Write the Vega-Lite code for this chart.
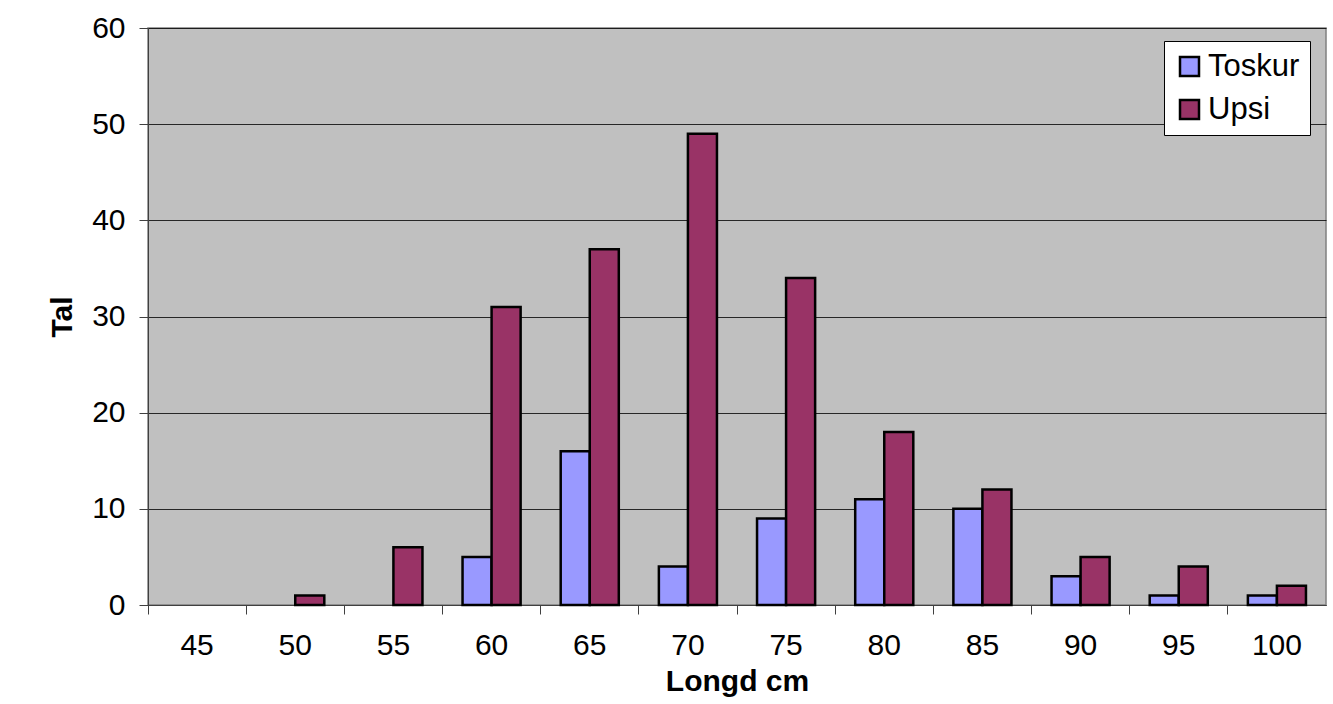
{
  "$schema": "https://vega.github.io/schema/vega-lite/v6.json",
  "width": 1178,
  "height": 577,
  "autosize": {"type": "none"},
  "padding": {"left": 148, "top": 28, "right": 7, "bottom": 99},
  "background": "white",
  "config": {
    "font": "Liberation Sans",
    "view": {"fill": "#C0C0C0", "stroke": "#808080", "strokeWidth": 1.5}
  },
  "data": {
    "values": [
      {"len": "45", "series": "Toskur", "n": 0}, {"len": "45", "series": "Upsi", "n": 0},
      {"len": "50", "series": "Toskur", "n": 0}, {"len": "50", "series": "Upsi", "n": 1},
      {"len": "55", "series": "Toskur", "n": 0}, {"len": "55", "series": "Upsi", "n": 6},
      {"len": "60", "series": "Toskur", "n": 5}, {"len": "60", "series": "Upsi", "n": 31},
      {"len": "65", "series": "Toskur", "n": 16}, {"len": "65", "series": "Upsi", "n": 37},
      {"len": "70", "series": "Toskur", "n": 4}, {"len": "70", "series": "Upsi", "n": 49},
      {"len": "75", "series": "Toskur", "n": 9}, {"len": "75", "series": "Upsi", "n": 34},
      {"len": "80", "series": "Toskur", "n": 11}, {"len": "80", "series": "Upsi", "n": 18},
      {"len": "85", "series": "Toskur", "n": 10}, {"len": "85", "series": "Upsi", "n": 12},
      {"len": "90", "series": "Toskur", "n": 3}, {"len": "90", "series": "Upsi", "n": 5},
      {"len": "95", "series": "Toskur", "n": 1}, {"len": "95", "series": "Upsi", "n": 4},
      {"len": "100", "series": "Toskur", "n": 1}, {"len": "100", "series": "Upsi", "n": 2}
    ]
  },
  "transform": [{"filter": "datum.n > 0"}],
  "mark": {"type": "bar", "stroke": "black", "strokeWidth": 2.5},
  "encoding": {
    "x": {
      "field": "len", "type": "ordinal",
      "scale": {"domain": ["45","50","55","60","65","70","75","80","85","90","95","100"], "paddingInner": 0, "paddingOuter": 0},
      "axis": {
        "title": "Longd cm", "titleFontSize": 30, "titleFontWeight": "bold", "titleColor": "black", "titlePadding": 6,
        "labelFontSize": 30, "labelColor": "black", "labelAngle": 0, "labelPadding": 16,
        "bandPosition": 0, "tickSize": 9, "tickColor": "#404040", "domainColor": "#404040",
        "grid": false
      }
    },
    "xOffset": {
      "field": "series", "type": "nominal",
      "scale": {"domain": ["Toskur", "Upsi"], "paddingInner": 0, "paddingOuter": 0.69}
    },
    "y": {
      "field": "n", "type": "quantitative",
      "scale": {"domain": [0, 60], "nice": false},
      "axis": {
        "title": "Tal", "titleFontSize": 30, "titleFontWeight": "bold", "titleColor": "black", "titlePadding": 14,
        "labelFontSize": 30, "labelColor": "black", "labelPadding": 14,
        "values": [0, 10, 20, 30, 40, 50, 60], "tickSize": 9, "tickColor": "#404040", "domainColor": "#404040",
        "grid": true, "gridColor": "black", "gridWidth": 1, "gridOpacity": 0.8
      }
    },
    "color": {
      "field": "series", "type": "nominal",
      "scale": {"domain": ["Toskur", "Upsi"], "range": ["#9999FF", "#993366"]},
      "legend": {
        "title": null, "orient": "none", "legendX": 1016, "legendY": 13,
        "fillColor": "white", "strokeColor": "black", "padding": 10,
        "labelFontSize": 31, "labelColor": "black", "symbolType": "square", "symbolSize": 361,
        "symbolStrokeColor": "black", "symbolStrokeWidth": 2.5, "rowPadding": 11, "labelOffset": 3
      }
    }
  }
}
